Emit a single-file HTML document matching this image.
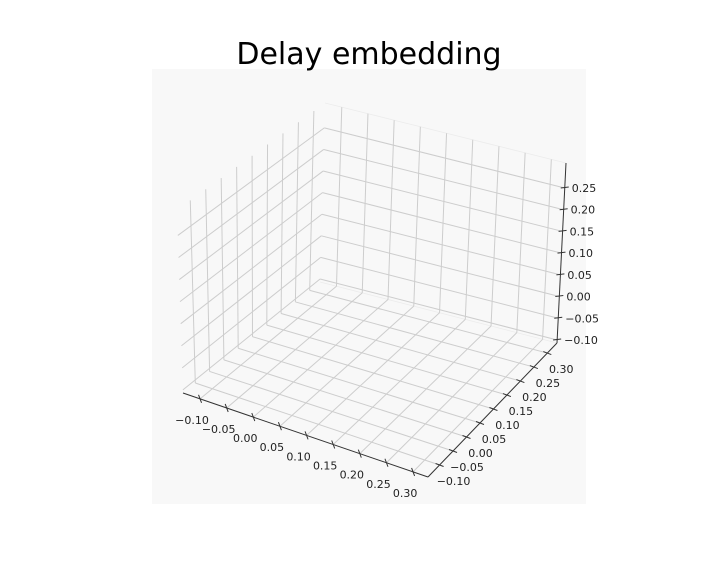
<!DOCTYPE html>
<html><head><meta charset="utf-8">
<style>
html,body{margin:0;padding:0;background:#fff;}
svg{display:block;font-family:"DejaVu Sans","Liberation Sans",sans-serif;}
</style></head>
<body>
<svg id="chart" width="720" height="576" viewBox="0 0 720 576">
  <rect x="152" y="69" width="434" height="435" fill="#f8f8f8"/>
  <text x="369" y="64" font-size="30" text-anchor="middle" fill="#000">Delay embedding</text>
  <g id="grid"></g>
  <g id="axes"></g>
  <g id="labels"></g>
</svg>
<script>
const xTicks = [-0.10, -0.05, 0.00, 0.05, 0.10, 0.15, 0.20, 0.25, 0.30];
const yTicks = [-0.10, -0.05, 0.00, 0.05, 0.10, 0.15, 0.20, 0.25, 0.30];
const zTicks = [-0.10, -0.05, 0.00, 0.05, 0.10, 0.15, 0.20, 0.25];
const xTickLabels = ["\u22120.10","\u22120.05","0.00","0.05","0.10","0.15","0.20","0.25","0.30"];
const yTickLabels = ["\u22120.10","\u22120.05","0.00","0.05","0.10","0.15","0.20","0.25","0.30"];
const zTickLabels = ["\u22120.10","\u22120.05","0.00","0.05","0.10","0.15","0.20","0.25"];
const xLim = [-0.132, 0.328];
const yLim = [-0.143, 0.336];
const zLim = [-0.107, 0.3076];
const series = []; // empty embedding (no data plotted)

const NS = "http://www.w3.org/2000/svg";
const C = {
  "000":[183,393], "100":[428,477], "110":[557,343], "010":[320,282],
  "001":[177,210], "101":[431,279], "111":[566,163], "011":[325,103]
};
function lerp(a,b,t){return [a[0]+(b[0]-a[0])*t, a[1]+(b[1]-a[1])*t];}
function proj(x,y,z){
  const u=(x-xLim[0])/(xLim[1]-xLim[0]);
  const v=(y-yLim[0])/(yLim[1]-yLim[0]);
  const w=(z-zLim[0])/(zLim[1]-zLim[0]);
  const b=lerp(lerp(C["000"],C["100"],u), lerp(C["010"],C["110"],u), v);
  const t=lerp(lerp(C["001"],C["101"],u), lerp(C["011"],C["111"],u), v);
  return lerp(b,t,w);
}
function line(g,p,q,color,w,name){
  const l=document.createElementNS(NS,"line");
  l.setAttribute("x1",p[0]);l.setAttribute("y1",p[1]);
  l.setAttribute("x2",q[0]);l.setAttribute("y2",q[1]);
  l.setAttribute("stroke",color);l.setAttribute("stroke-width",w);
  
  
  g.appendChild(l);
}
function text(g,x,y,s,anchor,name){
  const t=document.createElementNS(NS,"text");
  t.setAttribute("x",x);t.setAttribute("y",y);
  t.setAttribute("font-size","11");t.setAttribute("fill","#222");
  t.setAttribute("text-anchor",anchor);
  t.setAttribute("dominant-baseline","middle");
  t.textContent=s;
  
  
  g.appendChild(t);
}
const grid=document.getElementById("grid");
const axes=document.getElementById("axes");
const labels=document.getElementById("labels");
const gc="#cdcdcd", gw=1;
line(grid,proj(xLim[0],yLim[1],zLim[1]),proj(xLim[1],yLim[1],zLim[1]),"#ececec",0.8,"pane-edge");
line(grid,proj(xLim[0],yLim[1],zLim[0]),proj(xLim[1],yLim[1],zLim[0]),"#ececec",0.8,"pane-edge");
xTicks.forEach(x=>line(grid,proj(x,yLim[0],zLim[0]),proj(x,yLim[1],zLim[0]),gc,gw,"floor-grid-x"));
yTicks.forEach(y=>line(grid,proj(xLim[0],y,zLim[0]),proj(xLim[1],y,zLim[0]),gc,gw,"floor-grid-y"));
xTicks.forEach(x=>line(grid,proj(x,yLim[1],zLim[0]),proj(x,yLim[1],zLim[1]),gc,gw,"back-grid-x"));
zTicks.forEach(z=>line(grid,proj(xLim[0],yLim[1],z),proj(xLim[1],yLim[1],z),gc,gw,"back-grid-z"));
yTicks.forEach(y=>line(grid,proj(xLim[0],y,zLim[0]),proj(xLim[0],y,zLim[1]),gc,gw,"left-grid-y"));
zTicks.forEach(z=>line(grid,proj(xLim[0],yLim[0],z),proj(xLim[0],yLim[1],z),gc,gw,"left-grid-z"));
line(axes,proj(xLim[0],yLim[0],zLim[0]),proj(xLim[1],yLim[0],zLim[0]),"#333",1,"x-axis-line");
line(axes,proj(xLim[1],yLim[0],zLim[0]),proj(xLim[1],yLim[1],zLim[0]),"#333",1,"y-axis-line");
line(axes,proj(xLim[1],yLim[1],zLim[0]),proj(xLim[1],yLim[1],zLim[1]),"#333",1,"z-axis-line");
xTicks.forEach((x,i)=>{
  const p=proj(x,yLim[0],zLim[0]);
  line(axes,[p[0]-1.5,p[1]-4],[p[0]+1.5,p[1]+4],"#333",1,"x-tick");
  text(labels,p[0]-8,p[1]+22,xTickLabels[i],"middle","x-tick-label");
});
yTicks.forEach((y,i)=>{
  const p=proj(xLim[1],y,zLim[0]);
  line(axes,[p[0]-4,p[1]-1.5],[p[0]+4,p[1]+1.5],"#333",1,"y-tick");
  text(labels,p[0]+14,p[1]+17,yTickLabels[i],"middle","y-tick-label");
});
zTicks.forEach((z,i)=>{
  const p=proj(xLim[1],yLim[1],z);
  line(axes,[p[0]-4,p[1]],[p[0]+4,p[1]-1],"#333",1,"z-tick");
  text(labels,p[0]+7,p[1]+1,zTickLabels[i],"start","z-tick-label");
});
</script>
</body></html>
